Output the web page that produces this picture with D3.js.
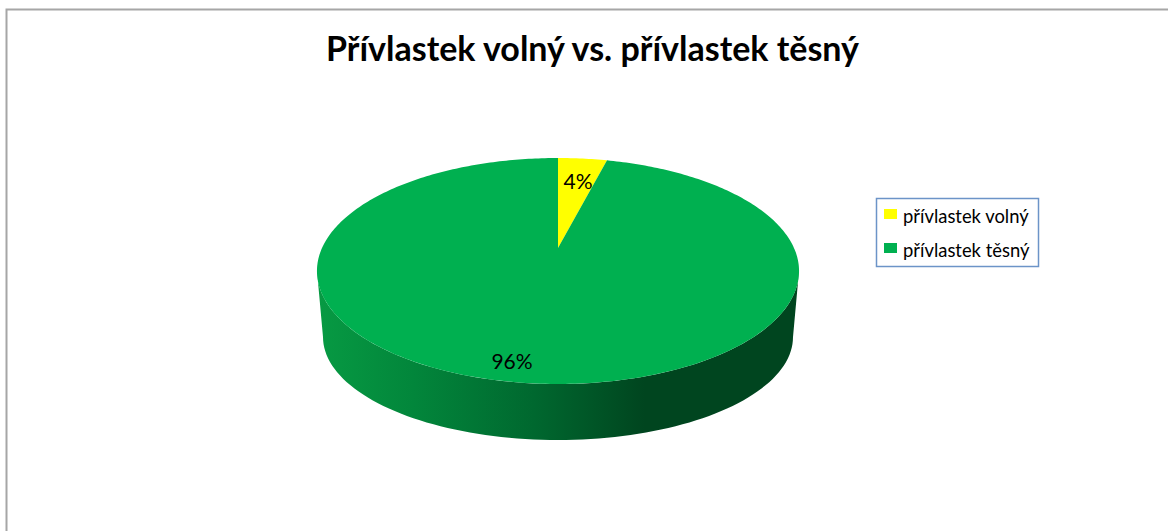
<!DOCTYPE html>
<html lang="cs">
<head>
<meta charset="utf-8">
<title>Přívlastek volný vs. přívlastek těsný</title>
<script src="https://cdn.jsdelivr.net/npm/d3@7"></script>
<style>
  html, body { margin: 0; padding: 0; background: #fff; }
  svg { display: block; }
  text { font-family: Lato, "Open Sans", sans-serif; fill: #000; }
</style>
</head>
<body>
<svg id="chart" width="1168" height="531"></svg>
<script>
const titleText = "Přívlastek volný vs. přívlastek těsný";
const categories = ["přívlastek volný", "přívlastek těsný"];
const shares = [4, 96];
const colors = ["#ffff00", "#00b050"];

const svg = d3.select("#chart");
const defs = svg.append("defs");

// Chart frame: only its top and left edges fall inside the page
svg.append("path")
  .attr("d", "M6.5,531V9.5H1168")
  .attr("fill", "none")
  .attr("stroke", "#a6a6a6")
  .attr("stroke-width", 2);

svg.append("text")
  .attr("x", 592.5).attr("y", 60.5)
  .attr("text-anchor", "middle")
  .attr("font-size", 34)
  .attr("font-weight", 700)
  .text(titleText);

// Perspective projection of the unit disc onto the tilted pie's top face
const cx = 558;
const persp = -0.2035;
function projectTop(angle, r = 1) {
  const u = r * Math.sin(angle), v = -r * Math.cos(angle);
  const w = 1 + persp * v;
  return [cx + 236 * u / w, (57.84 * v + 248) / w];
}

const pie = d3.pie().sort(null).value(d => d);
const arcs = pie(shares);
const line = d3.line();

function slicePath(a) {
  const n = Math.max(8, Math.ceil((a.endAngle - a.startAngle) * 60));
  const rim = d3.range(n + 1).map(i =>
    projectTop(a.startAngle + (a.endAngle - a.startAngle) * i / n));
  return line([projectTop(0, 0), ...rim]) + "Z";
}

// Side wall, shaded from left to right
const wall = defs.append("linearGradient")
  .attr("id", "wallShade")
  .attr("gradientUnits", "userSpaceOnUse")
  .attr("x1", 317).attr("x2", 799).attr("y1", 0).attr("y2", 0);
[[0, "#079a43"], [0.2, "#02863b"], [0.45, "#00682f"], [0.68, "#00451f"], [1, "#00451f"]]
  .forEach(([o, c]) => wall.append("stop").attr("offset", o).attr("stop-color", c));

const topRx = 241, topRy = 113, topCy = 271;
const baseRx = 235, baseRy = 103, baseCy = 337;
const lower = d3.range(0, 181, 2).map(d => d * Math.PI / 180);
const wallPoints = [
  ...lower.map(t => [cx + topRx * Math.cos(t), topCy + topRy * Math.sin(t)]),
  ...lower.slice().reverse().map(t => [cx + baseRx * Math.cos(t), baseCy + baseRy * Math.sin(t)])
];
svg.append("path")
  .attr("d", line(wallPoints) + "Z")
  .attr("fill", "url(#wallShade)");

// Top face of the pie
svg.append("g").selectAll("path")
  .data(arcs)
  .join("path")
  .attr("d", slicePath)
  .attr("fill", (d, i) => colors[i]);

// Value labels
const labelSpots = [[578, 188.5], [512, 368.5]];
svg.append("g").selectAll("text")
  .data(shares)
  .join("text")
  .attr("x", (d, i) => labelSpots[i][0])
  .attr("y", (d, i) => labelSpots[i][1])
  .attr("text-anchor", "middle")
  .attr("font-size", 21)
  .text(d => d + "%");

// Legend
const legend = svg.append("g");
legend.append("rect")
  .attr("x", 876.5).attr("y", 198.5)
  .attr("width", 162).attr("height", 68)
  .attr("fill", "#fff")
  .attr("stroke", "#6c94c8")
  .attr("stroke-width", 1.5);
const rows = legend.selectAll("g")
  .data(categories)
  .join("g")
  .attr("transform", (d, i) => `translate(884,${209 + i * 34})`);
rows.append("rect")
  .attr("width", 13).attr("height", 10)
  .attr("fill", (d, i) => colors[i]);
rows.append("text")
  .attr("x", 19).attr("y", 14)
  .attr("font-size", 18.4)
  .text(d => d);
</script>
</body>
</html>
